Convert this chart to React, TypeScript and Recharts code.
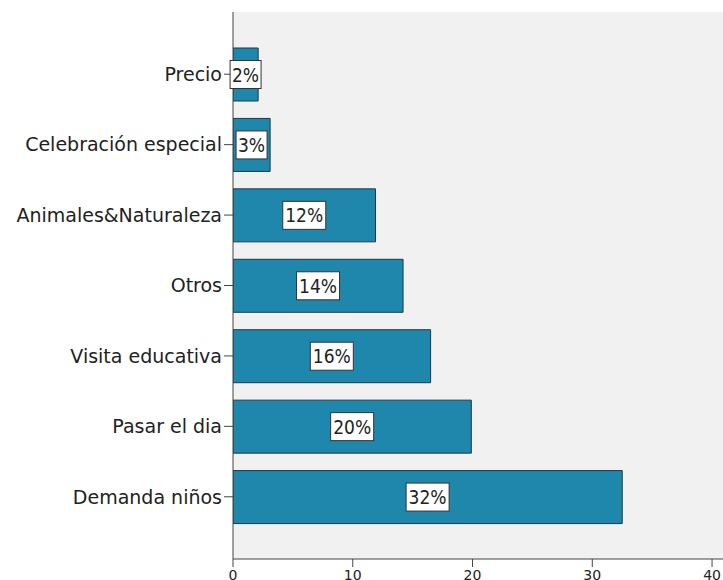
import React from "react";
import { BarChart, Bar, XAxis, YAxis, CartesianGrid, LabelList } from "recharts";

const categories = [
  "Precio",
  "Celebración especial",
  "Animales&Naturaleza",
  "Otros",
  "Visita educativa",
  "Pasar el dia",
  "Demanda niños",
];
const values = [2.1, 3.1, 11.9, 14.2, 16.5, 19.9, 32.5];
const percentLabels = ["2%", "3%", "12%", "14%", "16%", "20%", "32%"];
const xTicks = [0, 10, 20, 30, 40];

const data = categories.map((c, i) => ({ name: c, value: values[i], pct: percentLabels[i] }));

const BoxLabel = (props: any) => {
  const { x, y, width, height, index } = props;
  const text = percentLabels[index];
  const boxW = text.length * 12 + 7;
  const boxH = 28;
  const cx = x + width / 2;
  const cy = y + height / 2;
  return (
    <g>
      <rect x={cx - boxW / 2} y={cy - boxH / 2} width={boxW} height={boxH} fill="#ffffff" stroke="#333" strokeWidth={1} />
      <text x={cx} y={cy} textAnchor="middle" dominantBaseline="central" fontFamily="DejaVu Sans Condensed" fontSize={19} fill="#222">
        {text}
      </text>
    </g>
  );
};

export default function App() {
  return (
    <div style={{ position: "absolute", left: 0, top: 0, width: 723, height: 580, overflow: "hidden", background: "#fff" }}>
      <BarChart
        width={736}
        height={600}
        data={data}
        layout="vertical"
        margin={{ top: 12, right: 0, bottom: 11, left: 0 }}
        barSize={53}
      >
        <CartesianGrid fill="#f1f1f1" horizontal={false} vertical={false} />
        <XAxis
          type="number"
          domain={[0, 42]}
          ticks={xTicks}
          height={30}
          tickSize={8}
          tickMargin={3}
          stroke="#444"
          tick={{ fill: "#222", fontSize: 14, fontFamily: "DejaVu Sans" }}
          allowDataOverflow
        />
        <XAxis
          xAxisId="top"
          type="number"
          orientation="top"
          domain={[0, 42]}
          height={0}
          tick={false}
          tickLine={false}
          stroke="#555"
        />
        <YAxis
          type="category"
          dataKey="name"
          width={233}
          padding={{ top: 27, bottom: 27 }}
          tickSize={9}
          tickMargin={2}
          stroke="#444"
          tick={{ fill: "#222", fontSize: 19, fontFamily: "DejaVu Sans" }}
          interval={0}
        />
        <Bar dataKey="value" fill="#1f87ab" stroke="#1d3a4a" strokeWidth={1} isAnimationActive={false}>
          <LabelList dataKey="pct" content={BoxLabel} />
        </Bar>
      </BarChart>
    </div>
  );
}
